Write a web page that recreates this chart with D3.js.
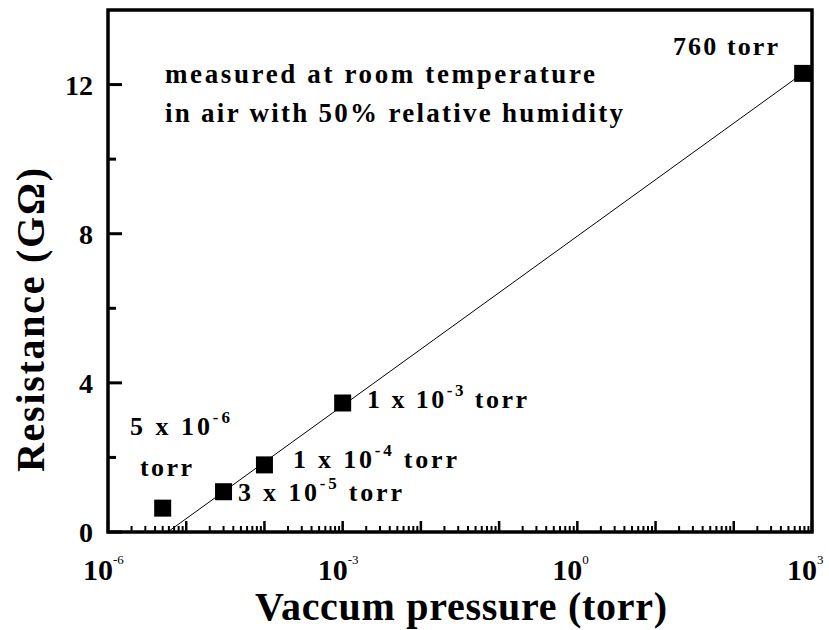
<!DOCTYPE html>
<html><head><meta charset="utf-8">
<script src="https://cdn.jsdelivr.net/npm/d3@7"></script>
<style>
body{margin:0;background:#fff;}
text{font-family:"Liberation Serif","Times New Roman",serif;fill:#000;}
</style></head>
<body><svg id="chart" width="829" height="630"></svg>
<script>
// Data
const pressures = [5e-6, 3e-5, 1e-4, 1e-3, 760];          // torr
const resistances = [0.64, 1.08, 1.8, 3.46, 12.3];       // GΩ
const pointLabels = [
  {mant:"5 x 10", exp:"-6", tail:""},
  {mant:"3 x 10", exp:"-5", tail:" torr"},
  {mant:"1 x 10", exp:"-4", tail:" torr"},
  {mant:"1 x 10", exp:"-3", tail:" torr"},
  {mant:"760 torr", exp:"", tail:""}
];
const fitPressure = [5.8e-6, 760];
const fitResistance = [0, 12.3];
const xTickExponents = [-6, -3, 0, 3];
const yTickValues = [0, 4, 8, 12];
const yMinorValues = [2, 6, 10];
const noteLines = ["measured at room temperature", "in air with 50% relative humidity"];

const svg = d3.select("#chart");
const L = 108, R = 812, T = 10, B = 532;
const x = d3.scaleLog().domain([1e-6, 1e3]).range([L, R]);
const y = d3.scaleLinear().domain([0, 14]).range([B, T]);

function fit(sel, target) {
  const n = sel.text().length;
  const w = sel.node().getComputedTextLength();
  sel.attr("letter-spacing", (target - w) / (n - 1));
}

// minor x ticks
const minorX = [];
for (let e = -6; e < 3; e++) for (let m = 2; m <= 9; m++) minorX.push(m * Math.pow(10, e));
const majorX = d3.range(-6, 4).map(e => Math.pow(10, e));

const g = svg.append("g");
g.selectAll(".xminor").data(minorX).join("line")
  .attr("x1", d => x(d)).attr("x2", d => x(d))
  .attr("y1", B).attr("y2", B - 6).attr("stroke", "#000").attr("stroke-width", 2);
g.selectAll(".xmajor").data(majorX).join("line")
  .attr("x1", d => x(d)).attr("x2", d => x(d))
  .attr("y1", B).attr("y2", B - 11).attr("stroke", "#000").attr("stroke-width", 2.5);

g.selectAll(".ymajor").data(yTickValues).join("line")
  .attr("x1", L).attr("x2", L + 14).attr("y1", d => y(d)).attr("y2", d => y(d))
  .attr("stroke", "#000").attr("stroke-width", 3);
g.selectAll(".yminor").data(yMinorValues).join("line")
  .attr("x1", L).attr("x2", L + 8).attr("y1", d => y(d)).attr("y2", d => y(d))
  .attr("stroke", "#000").attr("stroke-width", 3);

// frame
svg.append("rect").attr("x", L).attr("y", T).attr("width", R - L).attr("height", B - T)
  .attr("fill", "none").attr("stroke", "#000").attr("stroke-width", 3.5);

// y tick labels
svg.selectAll(".ylab").data(yTickValues).join("text")
  .attr("x", L - 15).attr("y", d => y(d) + 10).attr("text-anchor", "end")
  .attr("font-size", 28).attr("font-weight", "bold").text(d => d);

// x tick labels
const xl = svg.selectAll(".xlab").data(xTickExponents).join("text")
  .attr("x", d => x(Math.pow(10, d)) - 25).attr("y", 580)
  .attr("font-size", 30).attr("font-weight", "bold");
xl.append("tspan").text("10");
xl.append("tspan").attr("dy", -16).attr("font-size", 13).attr("font-weight", "normal").text(d => d);

// axis titles
const xt = svg.append("text").attr("x", 255).attr("y", 620)
  .attr("font-size", 40).attr("font-weight", "bold").text("Vaccum pressure (torr)");
fit(xt, 412);
const yt = svg.append("text").attr("transform", `translate(44,472) rotate(-90)`)
  .attr("font-size", 40).attr("font-weight", "bold")
  .text("Resistance (GΩ)");
fit(yt, 304);

// fit line
const line = d3.line().x(d => x(d[0])).y(d => y(d[1]));
svg.append("path").datum(d3.zip(fitPressure, fitResistance)).attr("d", line)
  .attr("fill", "none").attr("stroke", "#000").attr("stroke-width", 1);

// markers
const S = 17;
svg.selectAll(".pt").data(d3.zip(pressures, resistances)).join("rect")
  .attr("x", d => x(d[0]) - S / 2).attr("y", d => y(d[1]) - S / 2)
  .attr("width", S).attr("height", S).attr("fill", "#000");

// point labels: [start x, baseline y, width]
const lblPos = [[130, 435, 100], [238, 501, 164], [293, 468, 164], [367, 408, 160], [673, 55, 105]];
pointLabels.forEach((p, i) => {
  const t = svg.append("text").attr("x", lblPos[i][0]).attr("y", lblPos[i][1])
    .attr("font-size", 26).attr("font-weight", "bold");
  t.append("tspan").text(p.mant);
  if (p.exp) {
    t.append("tspan").attr("dy", -12).attr("font-size", 17).text(p.exp);
    t.append("tspan").attr("dy", 12).text(p.tail);
  }
  fit(t, lblPos[i][2]);
});
const t5 = svg.append("text").attr("x", 140).attr("y", 476)
  .attr("font-size", 26).attr("font-weight", "bold").text("torr");
fit(t5, 52);

// note
const noteWidths = [430, 458];
svg.selectAll(".note").data(noteLines).join("text")
  .attr("x", 165).attr("y", (d, i) => 83 + i * 39)
  .attr("font-size", 27).attr("font-weight", "bold").text(d => d)
  .each(function(d, i) { fit(d3.select(this), noteWidths[i]); });
</script></body></html>
